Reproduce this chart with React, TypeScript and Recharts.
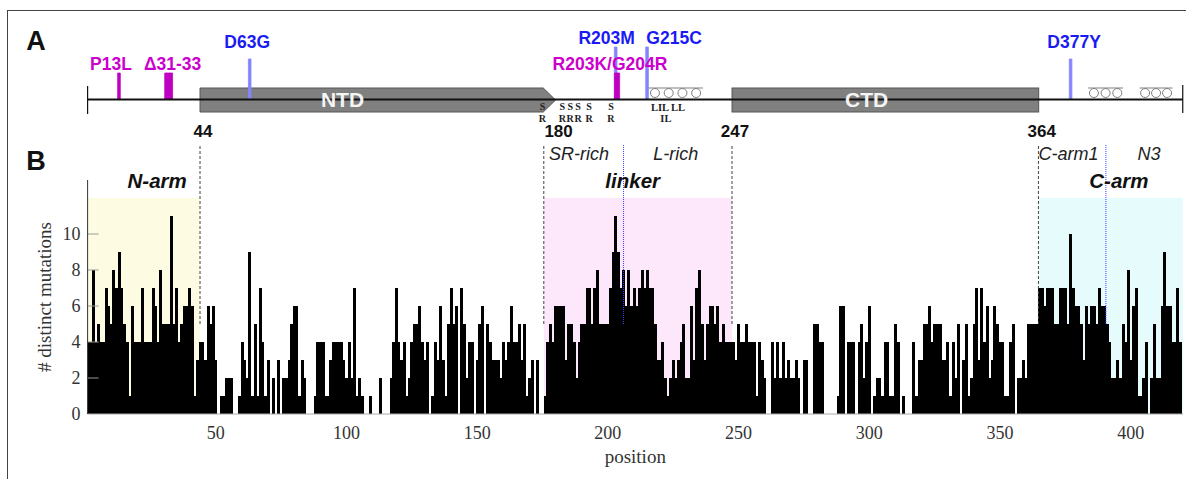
import React from 'react';
import { ComposedChart, Bar, XAxis, YAxis, ReferenceArea, ReferenceLine, ReferenceDot } from 'recharts';

// ---------------- data ----------------
const counts: number[] = [
  4,4,8,4,5,4,4,7,6,5,
  8,7,9,7,5,4,1,6,4,4,
  4,7,4,4,4,7,6,4,8,5,
  5,5,11,5,7,4,5,6,6,7,
  6,1,3,4,4,3,6,5,6,3,
  0,1,1,2,2,2,0,0,1,4,
  3,2,9,1,5,1,7,4,1,3,
  0,2,0,3,0,2,2,3,5,6,
  6,1,3,2,0,0,0,1,4,4,
  4,1,1,3,4,4,4,4,3,2,
  4,2,7,1,2,1,0,0,1,0,
  0,0,2,0,0,0,2,4,7,4,
  3,4,1,2,4,5,5,6,4,3,
  4,0,1,4,3,6,3,1,5,7,
  5,6,0,7,5,2,4,4,0,3,
  5,6,0,5,4,3,3,3,2,4,
  3,4,6,4,4,5,3,5,1,2,
  3,0,3,0,0,1,4,5,4,6,
  6,6,6,3,5,5,4,2,4,5,
  5,7,7,5,7,8,5,5,5,5,
  7,9,11,9,7,8,6,8,6,7,
  6,7,8,7,8,7,7,5,3,3,
  4,2,1,2,3,2,3,4,5,2,
  2,6,3,7,8,5,3,5,6,6,
  5,6,4,5,4,4,4,4,3,5,
  4,4,5,4,4,4,1,4,3,2,
  0,0,4,2,4,2,4,2,3,2,
  2,3,2,0,3,3,0,0,5,5,
  4,4,0,0,0,0,0,1,6,6,
  0,4,4,4,0,4,5,2,4,6,
  0,1,2,2,1,4,4,1,1,5,
  4,0,1,0,0,0,4,1,3,3,
  5,5,6,4,5,5,5,3,3,4,
  1,4,2,5,0,3,5,1,2,5,
  7,3,7,4,6,2,3,6,5,4,
  4,1,1,4,5,0,2,2,3,2,
  5,5,5,5,7,7,6,7,7,7,
  5,5,7,7,7,5,10,7,6,6,
  5,3,6,5,6,6,5,7,6,6,
  5,4,2,2,3,2,5,4,8,3,
  6,7,1,1,2,4,0,2,5,2,
  2,6,9,6,6,4,4,7,4,
];

const xTicks = [50, 100, 150, 200, 250, 300, 350, 400];
const yTicks = [0, 2, 4, 6, 8, 10];

// region boundaries (residue positions)
const domainBoundaries = [44, 175.5, 247.5, 364.7];
const subBoundaries = [206, 390.5];
const shadedRegions = [
  { name: 'N-arm', from: 1, to: 44, labelAt: 27.6 },
  { name: 'linker', from: 175.5, to: 247.5, labelAt: 209.5 },
  { name: 'C-arm', from: 364.7, to: 420, labelAt: 395.5 },
];
const subRegions = [
  { name: 'SR-rich', labelAt: 189 },
  { name: 'L-rich', labelAt: 226 },
  { name: 'C-arm1', labelAt: 376.2 },
  { name: 'N3', labelAt: 407 },
];
const boundaryLabels = [
  { text: '44', at: 44 },
  { text: '180', at: 180 },
  { text: '247', at: 247.5 },
  { text: '364', at: 364.8 },
];
const structuredDomains = [
  { name: 'NTD', from: 44, to: 180, labelAt: 98.5, arrow: true },
  { name: 'CTD', from: 247.5, to: 364.8, labelAt: 299, arrow: false },
];
const mutations = [
  { label: 'P13L', from: 13, to: 13, group: 'magenta', tier: 'low' },
  { label: 'Δ31-33', from: 31, to: 33, group: 'magenta', tier: 'low' },
  { label: 'D63G', from: 63, to: 63, group: 'blue', tier: 'mid' },
  { label: 'R203M', from: 203, to: 203, group: 'blue', tier: 'high' },
  { label: 'R203K/G204R', from: 203, to: 204, group: 'magenta', tier: 'low' },
  { label: 'G215C', from: 215, to: 215, group: 'blue', tier: 'high' },
  { label: 'D377Y', from: 377, to: 377, group: 'blue', tier: 'mid' },
];
const helices = [
  { from: 215.4, to: 236.4, turns: 4 },
  { from: 383.7, to: 397.1, turns: 3 },
  { from: 403.4, to: 416, turns: 3 },
];
const srMotifs = [175, 182.6, 185.6, 188.6, 192.8, 201.2];
const leucineText = [
  { text: 'LIL LL', at: 223, row: 0 },
  { text: 'IL', at: 222.2, row: 1 },
];

// ---------------- layout / style ----------------
const W = 1186;
const H = 479;
const PLOT_LEFT = 87.6;
const PLOT_RIGHT_MARGIN = 3;
const SANS = 'Liberation Sans, Arial, sans-serif';
const SERIF = 'Liberation Serif, Times New Roman, serif';
const regionFill: Record<string, string> = { 'N-arm': '#fefbe3', linker: '#fde7fa', 'C-arm': '#e6fcfc' };
const groupColor: Record<string, { bar: string; text: string }> = {
  magenta: { bar: '#c000c0', text: '#cc00cc' },
  blue: { bar: '#8585ff', text: '#1a1af5' },
};
const tierLayout: Record<string, { top: number; labelY: number }> = {
  low: { top: 73, labelY: 63.5 },
  mid: { top: 59, labelY: 42.3 },
  high: { top: 47, labelY: 38.3 },
};
const labelShift: Record<string, number> = {
  P13L: -8, 'Δ31-33': 4, D63G: -2.5, R203M: -9, 'R203K/G204R': -7, G215C: 27, D377Y: 3.5,
};
const LINE_Y = 99.5;
const BOX_TOP = 88;
const BOX_BOTTOM = 112;

const textShape = (text: string, style: any, dx = 0) => (props: any) => (
  <text
    x={(props.cx ?? 0) + dx}
    y={props.cy ?? 0}
    textAnchor="middle"
    dominantBaseline="central"
    {...style}
  >
    {text}
  </text>
);

const arrowShape = (props: any) => {
  const { x, y, width, height } = props;
  const tip = 12.3;
  return (
    <path
      d={`M${x},${y}H${x + width - tip}L${x + width},${y + height / 2}L${x + width - tip},${y + height}H${x}Z`}
      fill="#808080"
      stroke="#555"
      strokeWidth={1}
    />
  );
};

const boxShape = (props: any) => {
  const { x, y, width, height } = props;
  return <rect x={x} y={y} width={width} height={height} fill="#808080" stroke="#555" strokeWidth={1} />;
};

const coilShape = (turns: number) => (props: any) => {
  const { x, y, width, height } = props;
  const step = width / turns;
  const r = Math.min(step / 2 - 0.6, height / 2);
  return (
    <g fill="none" stroke="#808080" strokeWidth={1}>
      <line x1={x} x2={x + width} y1={y} y2={y} />
      {Array.from({ length: turns }, (_, i) => (
        <circle key={i} cx={x + step * (i + 0.5)} cy={y + height / 2 + 0.5} r={r} />
      ))}
    </g>
  );
};

export default function App() {
  const rows = counts.map((count, i) => ({ position: i + 1, count }));

  return (
    <div style={{ position: 'relative', width: W, height: H, overflow: 'hidden', background: '#fff' }}>
      <style>{'body{margin:0;}'}</style>
      <div
        style={{
          position: 'absolute', left: 7, top: 10, width: 1400, height: 700,
          borderTop: '1.2px solid #444', borderLeft: '1.2px solid #444',
        }}
      />

      {/* Panel B: histogram */}
      <div style={{ position: 'absolute', left: 0, top: 0 }}>
        <ComposedChart
          width={W}
          height={H}
          data={rows}
          margin={{ top: 180, right: PLOT_RIGHT_MARGIN, bottom: 0, left: 0 }}
          barCategoryGap={0}
          barGap={0}
        >
          {shadedRegions.map((r) => (
            <ReferenceArea
              key={r.name}
              x1={r.from}
              x2={r.to}
              y1={0}
              y2={12}
              fill={regionFill[r.name]}
              fillOpacity={1}
              stroke="none"
              ifOverflow="visible"
            />
          ))}
          <XAxis
            dataKey="position"
            type="number"
            domain={[1, 420]}
            ticks={xTicks}
            allowDataOverflow
            height={65}
            tickLine={false}
            tickSize={0}
            tickMargin={12}
            axisLine={{ stroke: '#aaa', strokeWidth: 1 }}
            tick={{ fontFamily: SERIF, fontSize: 18, fill: '#333' }}
            label={{ value: 'position', position: 'insideBottom', offset: 16, style: { fontFamily: SERIF, fontSize: 19, fill: '#333' } }}
          />
          <YAxis
            type="number"
            domain={[0, 13]}
            ticks={yTicks}
            allowDataOverflow
            width={PLOT_LEFT}
            tickLine={false}
            tickSize={0}
            tickMargin={7}
            axisLine={{ stroke: '#333', strokeWidth: 1 }}
            tick={{ fontFamily: SERIF, fontSize: 18, fill: '#333' }}
            label={{ value: '# distinct mutations', angle: -90, position: 'center', style: { fontFamily: SERIF, fontSize: 19, fill: '#333' } }}
          />
          {yTicks.filter((t) => t > 0).map((t) => (
            <ReferenceLine
              key={`yt${t}`}
              segment={[{ x: 1, y: t }, { x: 5.2, y: t }]}
              stroke="#999"
              strokeWidth={1}
              ifOverflow="visible"
            />
          ))}
          <Bar dataKey="count" fill="#000" shapeRendering="crispEdges" isAnimationActive={false} />
          {domainBoundaries.map((b) => (
            <ReferenceLine
              key={`db${b}`}
              segment={[{ x: b, y: 5 }, { x: b, y: 15 }]}
              stroke="#444"
              strokeWidth={1}
              strokeDasharray="3 2"
              ifOverflow="visible"
            />
          ))}
          {subBoundaries.map((b) => (
            <ReferenceLine
              key={`sb${b}`}
              segment={[{ x: b, y: 5 }, { x: b, y: 15 }]}
              stroke="#3a3aff"
              strokeWidth={1}
              strokeDasharray="1 1"
              ifOverflow="visible"
            />
          ))}
        </ComposedChart>
      </div>

      {/* Panel A: protein schematic and annotations */}
      <div style={{ position: 'absolute', left: 0, top: 0 }}>
        <ComposedChart
          width={W}
          height={200}
          data={rows}
          margin={{ top: 0, right: PLOT_RIGHT_MARGIN, bottom: 0, left: PLOT_LEFT }}
        >
          <XAxis dataKey="position" type="number" domain={[1, 420]} hide allowDataOverflow />
          <YAxis type="number" domain={[0, 200]} reversed hide allowDataOverflow />

          <ReferenceLine segment={[{ x: 1, y: LINE_Y }, { x: 419.9, y: LINE_Y }]} stroke="#111" strokeWidth={2} ifOverflow="visible" />
          <ReferenceLine segment={[{ x: 1, y: 86 }, { x: 1, y: 114 }]} stroke="#111" strokeWidth={1.2} ifOverflow="visible" />
          <ReferenceLine segment={[{ x: 419.9, y: 85 }, { x: 419.9, y: 113 }]} stroke="#111" strokeWidth={1.2} ifOverflow="visible" />

          {structuredDomains.map((d) => (
            <ReferenceArea
              key={d.name}
              x1={d.from}
              x2={d.to}
              y1={BOX_TOP}
              y2={BOX_BOTTOM}
              shape={d.arrow ? arrowShape : boxShape}
              ifOverflow="visible"
            />
          ))}
          {structuredDomains.map((d) => (
            <ReferenceDot
              key={`${d.name}-t`}
              x={d.labelAt}
              y={LINE_Y}
              r={0}
              ifOverflow="visible"
              shape={textShape(d.name, { fontFamily: SANS, fontWeight: 700, fontSize: 21, fill: '#f4f4f4' })}
            />
          ))}

          {helices.map((h, i) => (
            <ReferenceArea key={`h${i}`} x1={h.from} x2={h.to} y1={88} y2={97} shape={coilShape(h.turns)} ifOverflow="visible" />
          ))}

          {mutations.map((m) => (
            <ReferenceArea
              key={`mb-${m.label}`}
              x1={m.from - 0.5}
              x2={m.to + 0.5}
              y1={tierLayout[m.tier].top}
              y2={LINE_Y}
              fill={groupColor[m.group].bar}
              fillOpacity={1}
              stroke={groupColor[m.group].bar}
              strokeWidth={0.8}
              ifOverflow="visible"
            />
          ))}
          {mutations.map((m) => (
            <ReferenceDot
              key={`ml-${m.label}`}
              x={(m.from + m.to) / 2}
              y={tierLayout[m.tier].labelY}
              r={0}
              ifOverflow="visible"
              shape={textShape(m.label, { fontFamily: SANS, fontWeight: 700, fontSize: 17.5, fill: groupColor[m.group].text }, labelShift[m.label])}
            />
          ))}

          {srMotifs.map((p, i) => (
            <ReferenceDot
              key={`srS${i}`}
              x={p}
              y={106.5}
              r={0}
              ifOverflow="visible"
              shape={textShape('S', { fontFamily: SERIF, fontWeight: 700, fontSize: 10, fill: '#222' })}
            />
          ))}
          {srMotifs.map((p, i) => (
            <ReferenceDot
              key={`srR${i}`}
              x={p}
              y={118.5}
              r={0}
              ifOverflow="visible"
              shape={textShape('R', { fontFamily: SERIF, fontWeight: 700, fontSize: 10, fill: '#222' })}
            />
          ))}
          {leucineText.map((l, i) => (
            <ReferenceDot
              key={`leu${i}`}
              x={l.at}
              y={l.row === 0 ? 107 : 118.5}
              r={0}
              ifOverflow="visible"
              shape={textShape(l.text, { fontFamily: SERIF, fontWeight: 700, fontSize: 10.5, fill: '#222' })}
            />
          ))}

          {boundaryLabels.map((b) => (
            <ReferenceDot
              key={`bl${b.text}`}
              x={b.at}
              y={131.7}
              r={0}
              ifOverflow="visible"
              shape={textShape(b.text, { fontFamily: SANS, fontWeight: 700, fontSize: 17, fill: '#111' }, 3)}
            />
          ))}
          {subRegions.map((s) => (
            <ReferenceDot
              key={`sr${s.name}`}
              x={s.labelAt}
              y={153.5}
              r={0}
              ifOverflow="visible"
              shape={textShape(s.name, { fontFamily: SANS, fontStyle: 'italic', fontSize: 18, fill: '#222' })}
            />
          ))}
          {shadedRegions.map((r) => (
            <ReferenceDot
              key={`rl${r.name}`}
              x={r.labelAt}
              y={180}
              r={0}
              ifOverflow="visible"
              shape={textShape(r.name, { fontFamily: SANS, fontStyle: 'italic', fontWeight: 700, fontSize: 20.5, fill: '#111' })}
            />
          ))}
        </ComposedChart>
      </div>

      <svg style={{ position: 'absolute', left: 0, top: 0 }} width={80} height={200}>
        <text x={36} y={41} textAnchor="middle" dominantBaseline="central" fontFamily={SANS} fontWeight={700} fontSize={27} fill="#111">A</text>
        <text x={36} y={161} textAnchor="middle" dominantBaseline="central" fontFamily={SANS} fontWeight={700} fontSize={27} fill="#111">B</text>
      </svg>
    </div>
  );
}
